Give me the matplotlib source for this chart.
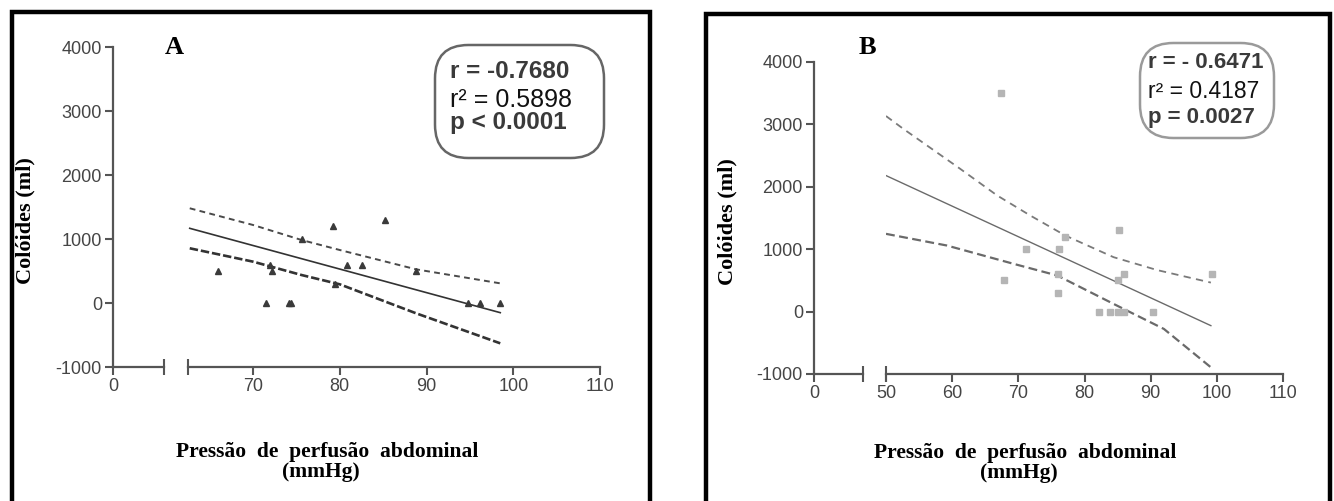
import numpy as np
import matplotlib
matplotlib.use("Agg")
import matplotlib.pyplot as plt
from matplotlib.patches import Rectangle, FancyBboxPatch

W, H = 1334, 501

# ---- panel A data (triangles) ----
a_x = [66.0, 71.5, 72.0, 72.2, 74.2, 74.4, 75.6, 79.2, 79.5, 80.8, 82.6, 85.2, 88.8, 94.8, 96.2, 98.5]
a_y = [500, 0, 600, 500, 0, 0, 1000, 1200, 300, 600, 600, 1300, 500, 0, 0, 0]
a_fit_x = [62.7, 98.5]
a_fit_y = [1167, -151]
a_band_x = [62.7, 70, 75.6, 80, 88.8, 98.5]
a_upper = [1480, 1219, 984, 828, 526, 307]
a_lower = [855, 646, 437, 292, -161, -630]

# ---- panel B data (squares) ----
b_x = [67.4, 67.8, 71.1, 76.1, 77.1, 76.0, 76.0, 85.2, 86.0, 85.1, 82.2, 83.8, 85.0, 86.0, 90.4, 99.3]
b_y = [3500, 500, 1000, 1000, 1200, 600, 300, 1300, 600, 500, 0, 0, 0, 0, 0, 600]
b_fit_x = [50, 99.1]
b_fit_y = [2180, -225]
b_up_x = [50, 52.6, 61.2, 66.8, 71.8, 77.1, 84.4, 91.0, 99.1]
b_upper = [3134, 2930, 2289, 1861, 1540, 1219, 872, 665, 465]
b_lo_x = [50, 59.2, 69.3, 75.9, 84.4, 92.0, 99.1]
b_lower = [1246, 1059, 765, 578, 123, -278, -893]

yticks = [-1000, 0, 1000, 2000, 3000, 4000]
a_xticks = [70, 80, 90, 100, 110]
b_xticks = [50, 60, 70, 80, 90, 100, 110]

stats_a = ["r = -0.7680", "r² = 0.5898", "p < 0.0001"]
stats_b = ["r = - 0.6471", "r² = 0.4187", "p = 0.0027"]

fig = plt.figure(figsize=(W / 100, H / 100), dpi=100)
fig.patch.set_facecolor("white")

AX = "#555555"
TICKFONT = dict(family=["Liberation Sans", "DejaVu Sans"], size=13, color="#454545")


def rect(x0, x1, ytop, ybot):
    # pixel box -> figure fraction
    return [x0 / W, 1 - ybot / H, (x1 - x0) / W, (ybot - ytop) / H]


def style(ax):
    for s in ["top", "right"]:
        ax.spines[s].set_visible(False)
    for s in ["left", "bottom"]:
        ax.spines[s].set_color(AX)
        ax.spines[s].set_linewidth(1.6)
    ax.tick_params(direction="out", length=6, width=1.5, color=AX, pad=2)
    ax.set_facecolor("none")


def panel(ypx, lpx, mpx, lxmax, mxlim, xticks):
    ytop, ybot = ypx
    axl = fig.add_axes(rect(lpx[0], lpx[1], ytop, ybot))
    axm = fig.add_axes(rect(mpx[0], mpx[1], ytop, ybot))
    for ax in (axl, axm):
        style(ax)
        ax.set_ylim(-1000, 4000)
    axl.set_xlim(0, lxmax)
    axl.set_xticks([0])
    axl.set_yticks(yticks)
    axl.set_xticklabels(["0"], **TICKFONT)
    axl.set_yticklabels([str(t) for t in yticks], **TICKFONT)
    axl.plot([lxmax], [-1000], marker="|", ms=11, mew=1.5, color=AX, clip_on=False)
    axm.set_xlim(*mxlim)
    axm.spines["left"].set_visible(False)
    axm.set_yticks([])
    axm.set_xticks(xticks)
    axm.set_xticklabels([str(t) for t in xticks], **TICKFONT)
    axm.plot([mxlim[0]], [-1000], marker="|", ms=11, mew=1.5, color=AX, clip_on=False)
    return axl, axm


# panel A
_, axa = panel((47, 367), (113, 164), (188, 600), 5.86, (62.5, 110), a_xticks)
axa.plot(a_band_x, a_upper, color="#4a4a4a", lw=1.4, dashes=(3, 2.2))
axa.plot(a_band_x, a_lower, color="#333333", lw=1.9, dashes=(3.2, 1.1))
axa.plot(a_fit_x, a_fit_y, color="#333333", lw=1.2)
axa.plot(a_x, a_y, ls="none", marker="^", ms=4.5, color="#3a3a3a", clip_on=False)

# panel B
_, axb = panel((62, 374), (814, 863), (886, 1283), 7.37, (50, 110), b_xticks)
axb.plot(b_up_x, b_upper, color="#7a7a7a", lw=1.3, dashes=(4, 3))
axb.plot(b_lo_x, b_lower, color="#6a6a6a", lw=1.6, dashes=(4, 2))
axb.plot(b_fit_x, b_fit_y, color="#6a6a6a", lw=1.0)
axb.plot(b_x, b_y, ls="none", marker="s", ms=5, color="#b5b5b5", clip_on=False)

# outer frames
for x0, x1, yt in [(12, 650, 12), (706, 1330, 14)]:
    fig.add_artist(Rectangle((x0 / W, -0.05), (x1 - x0) / W, 1.05 - yt / H,
                             transform=fig.transFigure, fill=False,
                             edgecolor="black", lw=3.2))

serif = ["Liberation Serif", "DejaVu Serif"]
sans = ["Liberation Sans", "DejaVu Sans"]

# panel letters
fig.text(174 / W, 1 - 48 / H, "A", family=serif, weight="bold", size=19, ha="center", va="center")
fig.text(867 / W, 1 - 47 / H, "B", family=serif, weight="bold", size=19, ha="center", va="center")

# axis labels
for xc, yc in [(25, 221), (727, 222)]:
    fig.text(xc / W, 1 - yc / H, "Colóides (ml)", family=serif, weight="bold", size=16,
             rotation=90, ha="center", va="center")
for xc, y1, y2 in [(327, 457, 477), (1025, 458, 478)]:
    fig.text(xc / W, 1 - y1 / H, "Pressão  de  perfusão  abdominal", family=serif,
             weight="bold", size=15.5, ha="center", va="baseline")
    fig.text((xc - 6) / W, 1 - y2 / H, "(mmHg)", family=serif, weight="bold", size=15.5,
             ha="center", va="baseline")

# stats boxes
for (bx0, bx1, by0, by1, ec, tx, ys, lines, fs) in [
        (435, 604, 45, 158, "#666666", 450, (71, 100, 122), stats_a, 17.5),
        (1140, 1274, 43, 138, "#9a9a9a", 1148, (63, 92, 117), stats_b, 16)]:
    fig.add_artist(FancyBboxPatch((bx0 / W, 1 - by1 / H), (bx1 - bx0) / W, (by1 - by0) / H,
                                  boxstyle="round,pad=0,rounding_size=0.025",
                                  transform=fig.transFigure, fill=False,
                                  edgecolor=ec, lw=1.8, mutation_aspect=W / H))
    for i, (s, yy) in enumerate(zip(lines, ys)):
        fig.text(tx / W, 1 - yy / H, s, family=sans,
                 weight="normal" if i == 1 else "bold",
                 color="#111111" if i == 1 else "#3a3a3a",
                 size=fs + (0.5 if i == 1 else 0), ha="left", va="center")

fig.savefig("out.png", dpi=100)
